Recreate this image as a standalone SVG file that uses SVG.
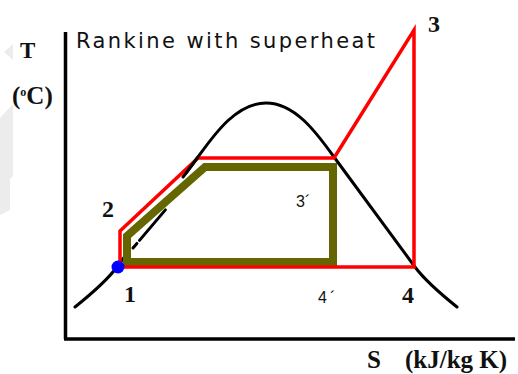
<svg xmlns="http://www.w3.org/2000/svg" width="518" height="374" viewBox="0 0 518 374">
  <style>
    .axis { stroke: #000; stroke-width: 3.5; fill: none; }
    .dome { stroke: #000; stroke-width: 3; fill: none; stroke-linecap: round; }
    .red { stroke: #ff0000; stroke-width: 3.5; fill: none; stroke-linejoin: miter; }
    .olive { stroke: #666600; stroke-width: 8; fill: none; stroke-linejoin: miter; }
    .lbl { font-family: "Liberation Serif", "Times New Roman", serif; font-weight: bold; fill: #111; }
    .sans { font-family: "Liberation Sans", Arial, sans-serif; fill: #111; }
    .title { font-family: "DejaVu Sans", Verdana, sans-serif; fill: #111; }
  </style>
  <rect width="518" height="374" fill="#fff"/>
  <g id="watermark" fill="#ececec">
    <polygon points="4,52 13,44 13,60"/>
    <polygon points="0,118 13,104 13,176 0,190"/>
    <polygon points="0,182 10,176 10,210 0,215"/>
  </g>
  <g id="axes">
    <line class="axis" x1="65.5" y1="32" x2="65.5" y2="339"/>
    <line class="axis" x1="64" y1="339" x2="515" y2="339"/>
  </g>
  <g id="saturation-dome">
    <path class="dome" d="M75,307 C85,299 105,283 117,267 L128,252"/>
    <path class="dome" d="M133,248 L167,208" stroke-dasharray="6 4 40" stroke-linecap="butt"/>
    <path class="dome" d="M183,177 L198,157 C214,135 236,103 266,103 C296,103 318,135 334,157 L415,267 C427,283 447,299 457,307"/>
  </g>
  <g id="connectors">
    <path id="cycle-ideal" class="olive" d="M127,262 L127,236 L205,167 L333,167 L333,262 Z"/>
    <path id="cycle-superheat" class="red" d="M120,267 L120,231 L198,158 L334,158 L414,30 L414,267 Z"/>
  </g>
  <g id="dome-overlay">
    <path class="dome" d="M186,173 L198,157"/>
  </g>
  <g id="node-1">
    <circle cx="118" cy="267" r="6.5" fill="#0000ff"/>
    <text class="lbl" x="124" y="302" font-size="24">1</text>
  </g>
  <g id="node-2">
    <text class="lbl" x="102" y="217" font-size="24">2</text>
  </g>
  <g id="node-3">
    <text class="lbl" x="428" y="32" font-size="24">3</text>
  </g>
  <g id="node-4">
    <text class="lbl" x="402" y="303" font-size="24">4</text>
  </g>
  <g id="node-3p">
    <text class="sans" x="296" y="207" font-size="16">3´</text>
  </g>
  <g id="node-4p">
    <text class="sans" x="318" y="303" font-size="16">4<tspan dx="3">´</tspan></text>
  </g>
  <g id="title">
    <text class="title" x="76" y="48" font-size="21" textLength="299" lengthAdjust="spacing">Rankine with superheat</text>
  </g>
  <g id="axis-labels">
    <text class="lbl" x="20" y="58" font-size="23">T</text>
    <text class="lbl" x="12" y="104" font-size="25">(<tspan font-size="12" dy="-8">o</tspan><tspan dy="8">C)</tspan></text>
    <text class="lbl" x="367" y="368" font-size="25">S<tspan x="405">(kJ/kg K)</tspan></text>
  </g>
</svg>
